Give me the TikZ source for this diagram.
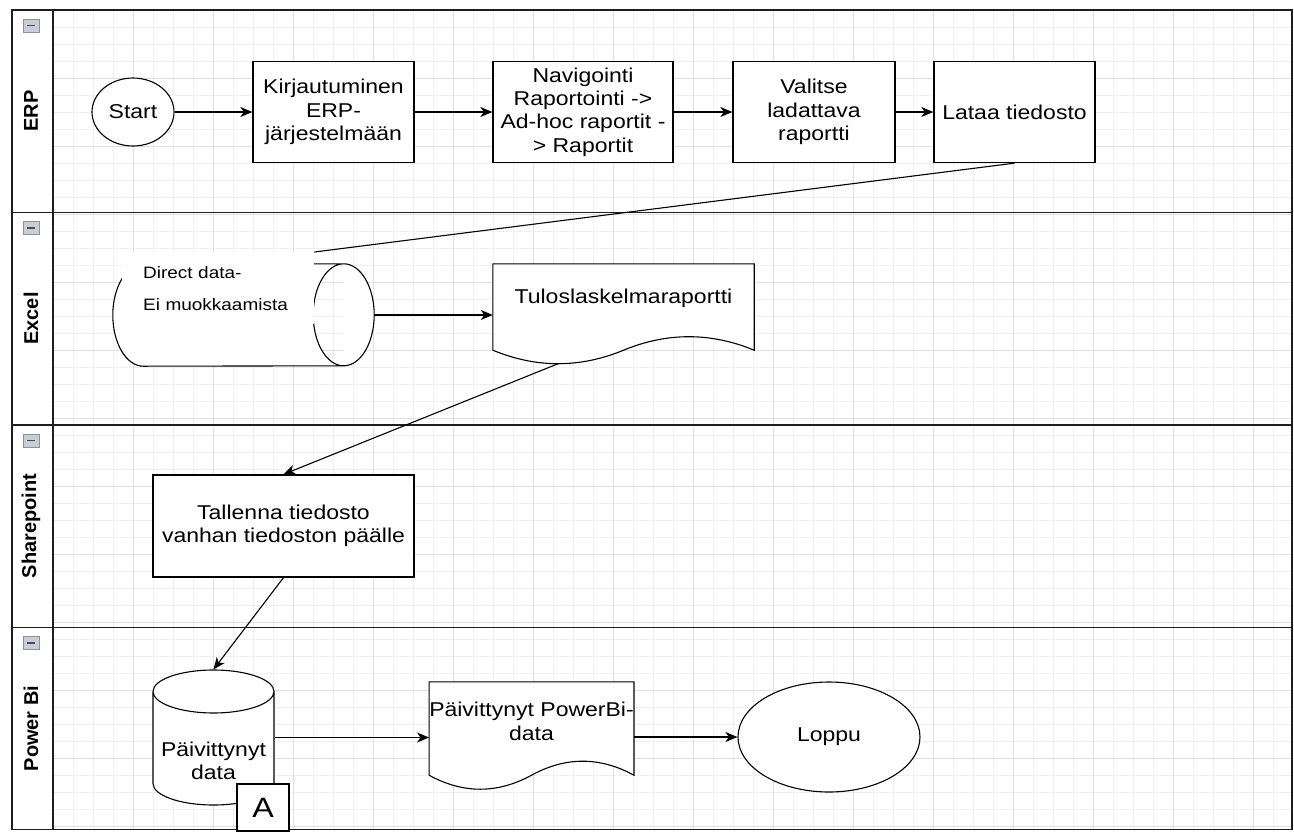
\documentclass[tikz,border=0pt]{standalone}
\usepackage{fontspec}
\setmainfont{Liberation Sans}[FakeStretch=1.15]
\newfontfamily\lanefont{Liberation Sans}
\usetikzlibrary{positioning}
\usetikzlibrary{arrows.meta}
\usetikzlibrary{shapes.geometric}
\usetikzlibrary{calc}
\usetikzlibrary{backgrounds}
\definecolor{gMinor}{HTML}{F0F0F0}
\definecolor{gMajor}{HTML}{E0E0E0}
\definecolor{pEdge}{HTML}{1E1E1E}
\definecolor{pIconFill}{HTML}{C9CDD6}
\definecolor{pIconEdge}{HTML}{8C919B}

\tikzset{
  gridminor/.style={draw=gMinor, line width=0.8pt},
  gridmajor/.style={draw=gMajor, line width=1pt},
  laneline/.style={draw=pEdge, line width=1.3pt},
  lanelabel/.style={rotate=90, font=\lanefont\bfseries\fontsize{20}{24}\selectfont},
  minusicon/.style={draw=pIconEdge, fill=pIconFill, line width=0.6pt},
  stepbox/.style={draw=black, fill=white, line width=1.3pt, align=center, inner sep=2pt, minimum height=101pt, font=\fontsize{20}{23.3}\selectfont},
  endpoint/.style={ellipse, draw=black, fill=white, line width=1.1pt, inner sep=0pt, font=\fontsize{20}{23.3}\selectfont},
  database/.style={cylinder, draw=black, fill=white, line width=1.1pt, inner sep=0pt, align=center, font=\fontsize{20}{23.3}\selectfont},
  docshape/.style={draw=none, align=center, inner sep=0pt, font=\fontsize{20}{23.3}\selectfont},
  flow/.style={-{Stealth[length=12pt,width=10pt,inset=3.5pt]}, line width=1.1pt},
  plain/.style={line width=1.1pt},
}

% paper sheet with a wavy lower edge, drawn behind the node text
\newcommand{\wavedoc}[2]{%
  \begin{scope}[on background layer]
    \draw[line width=1.1pt, fill=white]
      let \p1=(#1.south west), \p2=(#1.north east), \n1={(\x2-\x1)/6} in
      (\x1,\y2) -- (\x2,\y2) -- (\x2,\y1)
      .. controls ({\x2-\n1},{\y1+4/3*#2}) and ({\x1+4*\n1},{\y1+4/3*#2}) .. ({\x1+3*\n1},\y1)
      .. controls ({\x1+2*\n1},{\y1-4/3*#2}) and ({\x1+\n1},{\y1-4/3*#2}) .. (\x1,\y1)
      -- cycle;
  \end{scope}
  \coordinate (#1dip) at ($(#1.south west)!0.25!(#1.south east)+(0,#2)$);
}

\begin{document}
\begin{tikzpicture}[x=1pt, y=-1pt]
  \useasboundingbox (0,0) rectangle (1294,831);

  % grid
  \begin{scope}[on background layer]
    \foreach \gx in {0,...,61} \draw[gridminor] (53+20*\gx,10) -- (53+20*\gx,830);
    \foreach \gy in {1,...,48} \draw[gridminor] (53,10+17*\gy) -- (1292,10+17*\gy);
    \foreach \gx in {0,...,15} \draw[gridmajor] (53+80*\gx,10) -- (53+80*\gx,830);
    \foreach \gy in {1,...,12} \draw[gridmajor] (53,10+68*\gy) -- (1292,10+68*\gy);
  \end{scope}

  % pool and lanes
  \draw[laneline] (12,10) rectangle (1292,829.5);
  \draw[laneline] (53,10) -- (53,829.5);
  \foreach \ly in {212.5,425,627.5} \draw[laneline] (12,\ly) -- (1292,\ly);
  \foreach \ly in {10,212.5,425,627.5} {
    \draw[minusicon] (23,\ly+9) rectangle (39,\ly+22);
    \draw[line width=1.2pt, draw=black!70] (27,\ly+15.5) -- (35,\ly+15.5);
  }
  \node[lanelabel] (hErp) at (31,111) {ERP};
  \node[lanelabel] (hExcel) at (31,318.5) {Excel};
  \node[lanelabel] (hShare) at (31,526) {Sharepoint};
  \node[lanelabel] (hPowerBi) at (31,728.5) {Power Bi};

  % ERP
  \node[endpoint, minimum width=82pt, minimum height=68pt] (start) at (133,112) {Start};
  \node[stepbox, minimum width=161pt] (login) at (333.5,112) {Kirjautuminen\\ERP-\\järjestelmään};
  \node[stepbox, minimum width=180pt] (navigate) at (583,112) {Navigointi\\Raportointi ->\\Ad-hoc raportit -\\> Raportit};
  \node[stepbox, minimum width=162pt] (pick) at (814,112) {Valitse\\ladattava\\raportti};
  \node[stepbox, minimum width=161pt] (download) at (1014.5,112) {Lataa tiedosto};

  % Excel
  \node[minimum width=261pt, minimum height=102pt, inner sep=0pt] (directdb) at (243.5,315) {};
  \draw[line width=1.1pt, fill=white]
    let \p1=(directdb.south west), \p2=(directdb.north east) in
    ({\x1+30.5pt},\y2) -- ({\x2-30.5pt},\y2)
    arc[start angle=90, end angle=-90, x radius=30.5pt, y radius=51pt]
    -- ({\x1+30.5pt},\y1)
    arc[start angle=270, end angle=90, x radius=30.5pt, y radius=51pt] -- cycle
    ({\x2-30.5pt},\y2) arc[start angle=90, end angle=270, x radius=30.5pt, y radius=51pt];
  \node[fill=white, anchor=north west, text width=150pt, align=left, inner xsep=21pt, inner ysep=14pt, font=\fontsize{16.5}{32}\selectfont] (directtxt) at (122,252) {Direct data-\\Ei muokkaamista};
  \node[docshape, minimum width=261pt, minimum height=86pt, text depth=22.5pt] (report) at (623.5,307) {Tuloslaskelmaraportti};
  \wavedoc{report}{13.5}

  % Sharepoint
  \node[stepbox, minimum width=261pt, minimum height=102pt] (save) at (283.5,526) {Tallenna tiedosto\\vanhan tiedoston päälle};

  % Power Bi
  \node[database, shape border rotate=90, aspect=0.41, minimum width=121pt, minimum height=135pt, text height=62pt, anchor=shape center] (pdata) at (213.5,737.5) {Päivittynyt\\data};
  \node[docshape, minimum width=199pt, minimum height=93pt, text depth=14.5pt] (powerdoc) at (531.5,728.5) {Päivittynyt PowerBi-\\data};
  \wavedoc{powerdoc}{14}
  \node[endpoint, minimum width=182pt, minimum height=110pt] (finish) at (829,737) {Loppu};
  \node[draw=black, fill=white, line width=1.1pt, minimum width=52pt, minimum height=47pt, font=\fontsize{28}{30}\selectfont] (markA) at (263,807.5) {A};

  % connectors
  \draw[flow] (start) -- (login);
  \draw[flow] (login) -- (navigate);
  \draw[flow] (navigate) -- (pick);
  \draw[flow] (pick) -- (download);
  \draw[plain] (download.south) -- (directtxt.north east);
  \draw[flow] (directdb.east) -- (directdb.east -| report.west);
  \draw[flow] (reportdip) -- (save.north);
  \draw[flow] (save.south) -- (pdata.north);
  \draw[flow] (pdata.east |- pdata.shape center) -- (pdata.shape center -| powerdoc.west);
  \draw[flow] (powerdoc.east |- finish.west) -- (finish.west);
\end{tikzpicture}
\end{document}
